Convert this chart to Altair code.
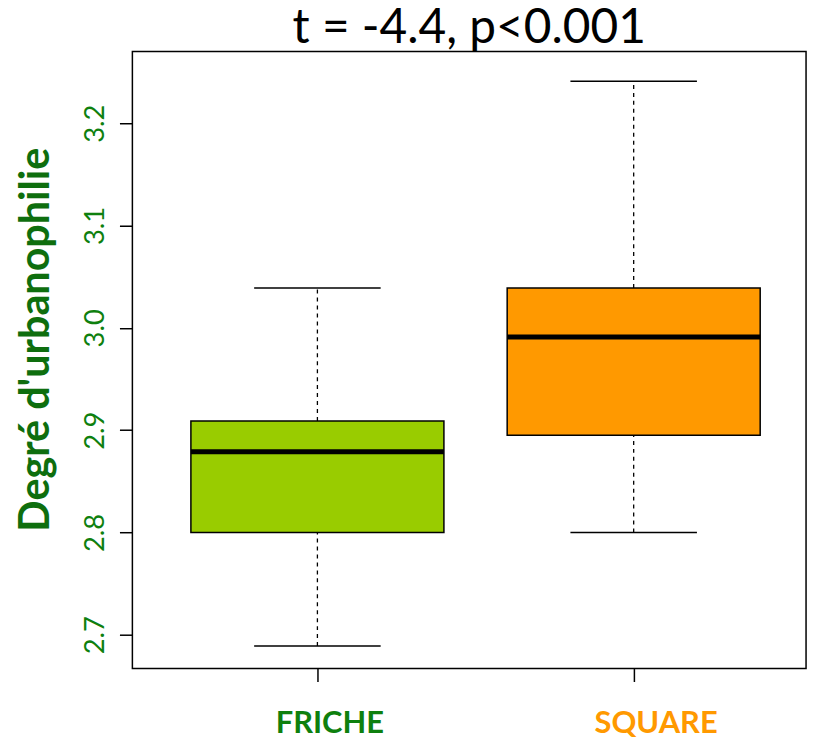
import altair as alt
import pandas as pd

groups = ["FRICHE", "SQUARE"]
positions = [1, 2]
whisker_low = [2.689, 2.800]
q1 = [2.800, 2.895]
median = [2.879, 2.991]
q3 = [2.909, 3.039]
whisker_high = [3.039, 3.241]
fills = ["#99CC00", "#FF9900"]
label_colors = ["#0E800E", "#FF9900"]
y_ticks = [2.7, 2.8, 2.9, 3.0, 3.1, 3.2]

df = pd.DataFrame({
    "group": groups, "pos": positions, "lo": whisker_low, "q1": q1,
    "med": median, "q3": q3, "hi": whisker_high, "fill": fills,
})

FONT = "Lato"
xscale = alt.Scale(domain=[0.415, 2.545], nice=False, zero=False)
yscale = alt.Scale(domain=[2.667, 3.270], nice=False, zero=False)

base = alt.Chart(df).transform_calculate(
    bl="datum.pos - 0.4", br="datum.pos + 0.4",
    cl="datum.pos - 0.2", cr="datum.pos + 0.2",
)

xaxis = alt.Axis(
    values=positions,
    labelExpr="datum.value == 1 ? 'FRICHE' : 'SQUARE'",
    labelColor={"condition": {"test": "datum.value == 1", "value": label_colors[0]}, "value": label_colors[1]},
    labelOffset={"condition": {"test": "datum.value == 1", "value": 12}, "value": 22},
    labelFont=FONT, labelFontSize=31, labelFontWeight="bold",
    labelPadding=27, tickSize=13, tickColor="black", tickWidth=1.5,
    domain=False, grid=False, title=None,
)
yaxis = alt.Axis(
    values=y_ticks, format=".1f", labelAngle=-90,
    labelColor="#0E800E", labelFont=FONT, labelFontSize=27.5,
    labelPadding=10, labelAlign="center", labelBaseline="bottom",
    tickSize=13, tickColor="black", tickWidth=1.5,
    domain=False, grid=False,
    title="Degré d'urbanophilie", titleFont=FONT, titleFontSize=41.5,
    titleFontWeight="bold", titleColor="#0E6E0E", titlePadding=24,
    titleY=289,
)

whisk_lo = base.mark_rule(color="black", strokeDash=[4, 4], strokeWidth=1.3).encode(
    x=alt.X("pos:Q", scale=xscale, axis=xaxis),
    y=alt.Y("lo:Q", scale=yscale, axis=yaxis),
    y2="q1:Q",
)
whisk_hi = base.mark_rule(color="black", strokeDash=[4, 4], strokeWidth=1.3).encode(
    x="pos:Q", y="q3:Q", y2="hi:Q",
)
cap_lo = base.mark_rule(color="black", strokeWidth=1.5).encode(
    x="cl:Q", x2="cr:Q", y="lo:Q",
)
cap_hi = base.mark_rule(color="black", strokeWidth=1.5).encode(
    x="cl:Q", x2="cr:Q", y="hi:Q",
)
box = base.mark_rect(stroke="black", strokeWidth=1.5).encode(
    x="bl:Q", x2="br:Q", y="q1:Q", y2="q3:Q",
    fill=alt.Fill("fill:N", scale=None),
)
med = base.mark_rule(color="black", strokeWidth=5).encode(
    x="bl:Q", x2="br:Q", y="med:Q",
)

chart = alt.layer(whisk_lo, whisk_hi, cap_lo, cap_hi, box, med).properties(
    width=677, height=620,
    title=alt.TitleParams("t = -4.4, p<0.001", font=FONT, fontSize=48,
                          fontWeight="normal", color="black", anchor="middle",
                          offset=-1),
    autosize=alt.AutoSizeParams(type="none"),
    padding={"left": 125, "top": 42, "right": 10, "bottom": 70},
    background="white",
).configure_view(stroke="black", strokeWidth=1.5)

chart.save("out.html", embed_options={"renderer": "svg", "actions": False})
